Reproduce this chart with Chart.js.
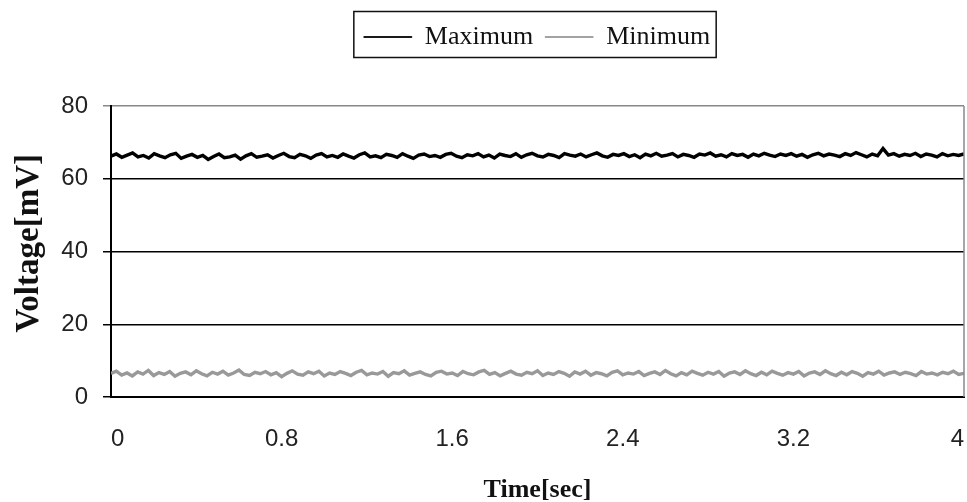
<!DOCTYPE html>
<html>
<head>
<meta charset="utf-8">
<script src="https://cdn.jsdelivr.net/npm/chart.js@4/dist/chart.umd.min.js"></script>
<style>
  html, body { margin: 0; padding: 0; background: #fff; }
  #wrap { width: 967px; height: 502px; position: relative; }
</style>
</head>
<body>
<div id="wrap"><canvas id="voltChart"></canvas></div>
<script>
// voltage trace — max / min envelope over 4 s
const seriesNames = ['Maximum', 'Minimum'];
const duration = 4; // sec, samples are evenly spread over this span
const xTickValues = [0, 0.8, 1.6, 2.4, 3.2, 4];
const yTickValues = [0, 20, 40, 60, 80];

const maxVoltage = [
  66.2, 66.8, 65.9, 66.5, 67.1, 66.0, 66.4, 65.7, 66.9, 66.3, 65.8, 66.6, 67.0, 65.6, 66.2, 66.7, 65.9, 66.4, 65.3, 66.1,
  66.8, 65.8, 66.0, 66.5, 65.4, 66.3, 66.9, 65.9, 66.2, 66.6, 65.7, 66.4, 67.0, 66.1, 65.8, 66.7, 66.3, 65.6, 66.5, 66.9,
  66.0, 66.4, 65.9, 66.8, 66.2, 65.7, 66.6, 67.1, 66.0, 66.3, 65.8, 66.7, 66.4, 65.9, 66.9, 66.2, 65.6, 66.5, 66.8, 66.1,
  66.4, 65.9, 66.7, 67.0, 66.2, 65.8, 66.6, 66.3, 66.9, 66.0, 66.5, 65.7, 66.8, 66.4, 66.1, 66.9, 65.9, 66.6, 67.0, 66.3,
  66.0, 66.7, 66.4, 65.8, 66.9, 66.5, 66.2, 66.8, 66.0, 66.6, 67.1, 66.3, 65.9, 66.7, 66.4, 66.9, 66.1, 66.6, 65.8, 66.8,
  66.3, 67.0, 66.2, 66.5, 66.9, 66.0, 66.7, 66.4, 65.9, 66.8, 66.5, 67.1, 66.2, 66.6, 66.0, 66.9, 66.4, 66.7, 65.9, 66.8,
  66.3, 67.0, 66.5, 66.1, 66.8, 66.4, 66.9, 66.2, 66.7, 65.9, 66.6, 67.0, 66.3, 66.8, 66.5, 66.1, 66.9, 66.4, 67.2, 66.6,
  66.0, 66.8, 66.3, 68.3, 66.5, 66.9, 66.2, 66.7, 66.4, 67.0, 66.1, 66.8, 66.5, 66.0, 66.9, 66.3, 66.7, 66.4, 66.8
];
const minVoltage = [
  6.5, 7.1, 6.0, 6.6, 5.8, 6.9, 6.3, 7.3, 5.9, 6.7, 6.2, 7.0, 5.7, 6.5, 6.9, 6.1, 7.2, 6.4, 5.8, 6.8,
  6.3, 7.1, 6.0, 6.6, 7.4, 6.2, 5.9, 6.8, 6.4, 7.0, 6.1, 6.7, 5.6, 6.5, 7.2, 6.3, 6.0, 6.9, 6.4, 7.1,
  5.8, 6.6, 6.2, 7.0, 6.5, 5.9, 6.8, 7.3, 6.1, 6.6, 6.3, 7.0, 5.7, 6.7, 6.4, 7.2, 6.0, 6.5, 6.9, 6.2,
  5.8, 6.8, 7.1, 6.3, 6.6, 5.9, 7.0, 6.4, 6.1, 6.9, 7.3, 6.2, 6.7, 5.8, 6.5, 7.1, 6.3, 6.0, 6.8, 6.4,
  7.2, 5.9, 6.6, 6.2, 7.0, 6.5, 5.7, 6.9, 6.3, 7.1, 6.0, 6.7, 6.4, 5.8, 6.8, 7.2, 6.1, 6.6, 6.3, 7.0,
  5.9, 6.5, 6.9, 6.2, 7.3, 6.4, 5.8, 6.7, 6.1, 7.1, 6.5, 6.0, 6.8, 6.3, 7.0, 5.7, 6.6, 6.9, 6.2, 7.2,
  6.4, 5.9, 6.8, 6.1, 7.1, 6.5, 6.0, 6.7, 6.3, 7.0, 5.8, 6.6, 6.9, 6.2, 7.2, 6.4, 5.9, 6.8, 6.1, 7.0,
  6.5, 5.7, 6.7, 6.3, 7.1, 6.0, 6.6, 6.9, 6.2, 6.8, 6.4, 5.9, 7.0, 6.3, 6.6, 6.1, 6.8, 6.4, 7.1, 6.2, 6.5
];

const toPoints = arr => arr.map((v, i) => ({ x: i * duration / (arr.length - 1), y: v }));

const serif = "'Liberation Serif', 'Times New Roman', serif";
const sans = "'Liberation Sans', Arial, sans-serif";
const legendShift = { x: 55, y: 12 }; // legend sits centred over the plot, not the canvas

// box around the legend + gray frame on the right side of the plot
const frames = {
  id: 'frames',
  beforeInit(chart){
    const lg = chart.legend;
    const fit = lg.fit, draw = lg.draw;
    lg.fit = function(){ fit.call(this); this.height = 106; };
    lg.draw = function(){
      const { left, right, top } = this;
      this.left += legendShift.x; this.right += legendShift.x; this.top += legendShift.y;
      draw.call(this);
      this.left = left; this.right = right; this.top = top;
    };
  },
  afterDraw(chart){
    const { ctx, chartArea: a, legend } = chart;
    ctx.save();
    ctx.strokeStyle = '#888'; ctx.lineWidth = 1.5;
    ctx.beginPath(); ctx.moveTo(a.right, a.top); ctx.lineTo(a.right, a.bottom); ctx.stroke();
    const hb = legend.legendHitBoxes;
    if (hb && hb.length){
      const last = hb[hb.length-1];
      const l = hb[0].left - 10 + legendShift.x, r = last.left + last.width + 6 + legendShift.x;
      ctx.strokeStyle = '#111'; ctx.lineWidth = 1.5;
      ctx.strokeRect(l, 11.5, r - l, 46);
    }
    ctx.restore();
  }
};

new Chart(document.getElementById('voltChart'), {
  type: 'line',
  data: { datasets: [
    { label: seriesNames[0], data: toPoints(maxVoltage), borderColor: '#000', backgroundColor: '#000', borderWidth: 3.4, pointRadius: 0, tension: 0 },
    { label: seriesNames[1], data: toPoints(minVoltage), borderColor: '#999', backgroundColor: '#999', borderWidth: 3.4, pointRadius: 0, tension: 0 }
  ] },
  options: {
    responsive: true, maintainAspectRatio: false, animation: false,
    layout: { padding: { left: 0, right: 3, top: 0, bottom: 0 } },
    plugins: {
      legend: {
        position: 'top',
        labels: {
          boxWidth: 48, boxHeight: 1, padding: 12, color: '#111', font: { family: serif, size: 26 },
          generateLabels: chart => Chart.defaults.plugins.legend.labels.generateLabels(chart).map(l => ({ ...l, lineWidth: 0.8 }))
        }
      },
      tooltip: { enabled: false }
    },
    scales: {
      x: {
        type: 'linear', min: 0, max: duration,
        afterBuildTicks: s => { s.ticks = xTickValues.map(v => ({ value: v })); },
        afterFit: s => { s.height = 105; s.paddingRight = 0; s.paddingLeft = 0; },
        ticks: { color: '#222', padding: 20, align: 'inner', font: { family: sans, size: 24 }, maxRotation: 0, callback: v => String(+v.toFixed(1)) },
        grid: { display: false },
        border: { color: '#000', width: 2 },
        title: { display: true, text: 'Time[sec]', color: '#111', padding: { top: 20, bottom: -4 }, font: { family: serif, size: 26, weight: 'bold' } }
      },
      y: {
        min: 0, max: 80,
        afterBuildTicks: s => { s.ticks = yTickValues.map(v => ({ value: v })); },
        afterFit: s => { s.width = 111; },
        ticks: { color: '#222', padding: 15, font: { family: sans, size: 24 } },
        grid: { color: ctx => ctx.tick && ctx.tick.value === 80 ? '#888' : '#000', lineWidth: 1.5, tickLength: 8, drawTicks: true },
        border: { color: '#000', width: 2 },
        title: { display: true, text: '\u00a0\u00a0Voltage[mV]', color: '#111', padding: { top: 10, bottom: 0 }, font: { family: serif, size: 33, weight: 'bold' } }
      }
    }
  },
  plugins: [frames]
});
</script>
</body>
</html>
